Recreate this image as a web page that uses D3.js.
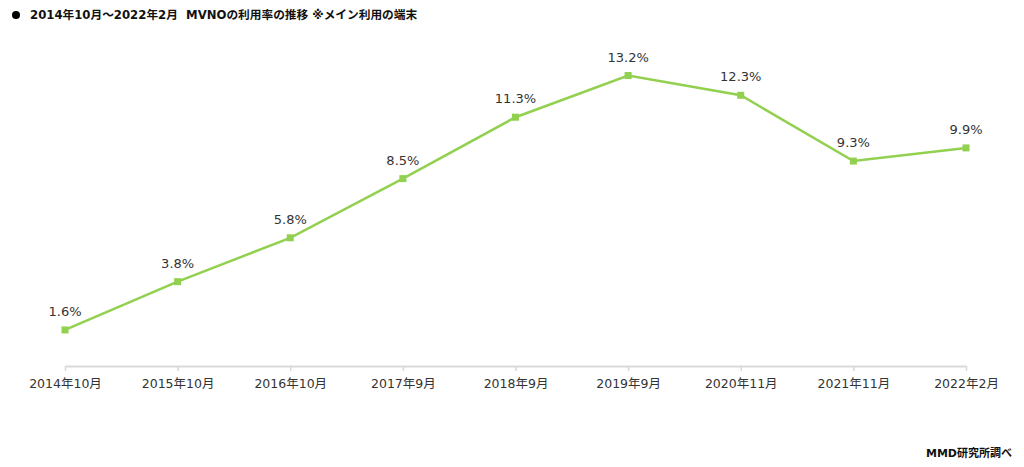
<!DOCTYPE html>
<html><head><meta charset="utf-8">
<script src="https://cdn.jsdelivr.net/npm/d3@7"></script>
<style>
html,body{margin:0;padding:0;background:#fff;}
svg{display:block;}
text{white-space:pre;}
</style></head>
<body>
<svg id="c" width="1024" height="467"></svg>
<script>
const categories = ["2014年10月","2015年10月","2016年10月","2017年9月","2018年9月","2019年9月","2020年11月","2021年11月","2022年2月"];
const values = [1.6, 3.8, 5.8, 8.5, 11.3, 13.2, 12.3, 9.3, 9.9];
const valueLabels = ["1.6%","3.8%","5.8%","8.5%","11.3%","13.2%","12.3%","9.3%","9.9%"];
const titleText = "2014年10月～2022年2月  MVNOの利用率の推移 ※メイン利用の端末";
const sourceText = "MMD研究所調べ";

const svg = d3.select("#c");
const font = "'DejaVu Sans','Noto Sans CJK JP',sans-serif";
const color = "#92d050";

const x = d3.scalePoint().domain(categories).range([65, 966]);
const y = d3.scaleLinear().domain([0, 14]).range([365, 58]);

// title
svg.append("circle").attr("cx", 16).attr("cy", 15).attr("r", 4).attr("fill", "#000");
svg.append("text").attr("x", 30).attr("y", 19).attr("font-family", font).attr("font-size", 11.7)
  .attr("font-weight", "bold").attr("fill", "#111").text(titleText);

// axis
const axis = d3.axisBottom(x).tickSize(5).tickPadding(8).tickSizeOuter(0);
const g = svg.append("g").attr("transform", "translate(0,366)").call(axis);
g.select(".domain").attr("stroke", "#d9d9d9").attr("stroke-width", 2);
g.selectAll(".tick line").attr("stroke", "#d9d9d9").attr("stroke-width", 1.5);
g.selectAll(".tick text").attr("font-family", font).attr("font-size", 12.5).attr("fill", "#333");

// line
const line = d3.line().x((d, i) => x(categories[i])).y(d => y(d));
svg.append("path").datum(values).attr("d", line).attr("fill", "none")
  .attr("stroke", color).attr("stroke-width", 2.5);

svg.selectAll("rect.m").data(values).enter().append("rect").attr("class", "m")
  .attr("x", (d, i) => x(categories[i]) - 3.5).attr("y", d => y(d) - 3.5)
  .attr("width", 7).attr("height", 7).attr("fill", color);

svg.selectAll("text.v").data(values).enter().append("text").attr("class", "v")
  .attr("x", (d, i) => x(categories[i])).attr("y", d => y(d) - 14)
  .attr("text-anchor", "middle").attr("font-family", font).attr("font-size", 13)
  .attr("fill", "#333").text((d, i) => valueLabels[i]);

svg.append("text").attr("x", 1012).attr("y", 457).attr("text-anchor", "end")
  .attr("font-family", font).attr("font-size", 11).attr("font-weight", "bold")
  .attr("fill", "#111").text(sourceText);
</script>
</body></html>
